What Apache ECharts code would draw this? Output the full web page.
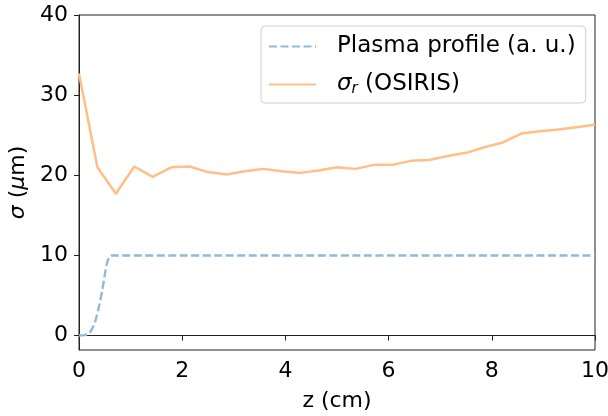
<!DOCTYPE html>
<html>
<head>
<meta charset="utf-8">
<script src="https://cdn.jsdelivr.net/npm/echarts@6/dist/echarts.min.js"></script>
<style>
  html, body { margin: 0; padding: 0; background: #fff; }
  #chart { width: 608px; height: 416px; }
</style>
</head>
<body>
<div id="chart"></div>
<script>
// z positions of the OSIRIS samples (cm)
var zSim = [0, 0.357, 0.714, 1.071, 1.429, 1.786, 2.143, 2.5, 2.857, 3.214,
  3.571, 3.929, 4.286, 4.643, 5.0, 5.357, 5.714, 6.071, 6.429, 6.786,
  7.143, 7.5, 7.857, 8.214, 8.571, 8.929, 9.286, 9.643, 10]
// sigma_r from the simulation (um)
var sigmaR = [32.7, 21.0, 17.7, 21.1, 19.8, 21.0, 21.1, 20.4, 20.1, 20.5,
  20.8, 20.5, 20.3, 20.6, 21.0, 20.8, 21.3, 21.3, 21.8, 21.9,
  22.4, 22.8, 23.5, 24.1, 25.2, 25.5, 25.7, 26.0, 26.3]
// plasma density profile, arbitrary units
var zPlasma = [0, 0.1, 0.2, 0.3, 0.35, 0.4, 0.45, 0.5, 0.55, 0.6, 0.65, 10]
var plasma = [0, 0.05, 0.3, 1.5, 2.6, 4.0, 5.6, 7.6, 9.2, 9.9, 10, 10]

var xTicks = [0, 2, 4, 6, 8, 10]
var yTicks = [0, 10, 20, 30, 40]

var font = 'DejaVu Sans'
var pair = function (xs, ys) {
  return xs.map(function (v, i) { return [v, ys[i]] })
}

var myChart = echarts.init(document.getElementById('chart'))
var option = {
  animation: false,
  textStyle: { fontFamily: font },
  grid: {
    left: 79, right: 13, top: 15, bottom: 66,
    containLabel: false, outerBoundsMode: 'none',
    show: true, borderColor: '#222', borderWidth: 1
  },
  legend: {
    left: 261, top: 26,
    orient: 'vertical',
    padding: [9, 10, 6, 7],
    itemWidth: 47, itemHeight: 26, itemGap: 15,
    backgroundColor: 'rgba(255,255,255,0.8)',
    borderColor: '#d0d0d0', borderWidth: 1, borderRadius: 4,
    itemStyle: { opacity: 0 },
    textStyle: {
      fontFamily: font, fontSize: 23, color: '#000',
      padding: [0, 0, 0, 16],
      rich: {
        s: { fontFamily: font, fontSize: 23, fontStyle: 'italic', color: '#000' },
        sub: { fontFamily: font, fontSize: 15, fontStyle: 'italic', color: '#000', verticalAlign: 'bottom', padding: [10, 0, 0, 0] },
        t: { fontFamily: font, fontSize: 23, color: '#000' }
      }
    },
    formatter: function (name) {
      if (name === 'sigma') return '{s|σ}{sub|r}{t| (OSIRIS)}'
      return name
    },
    data: ['Plasma profile (a. u.)', 'sigma']
  },
  xAxis: {
    type: 'value', min: 0, max: 10, interval: 2,
    name: 'z (cm)', nameLocation: 'middle', nameGap: 40,
    nameTextStyle: { fontFamily: font, fontSize: 22, color: '#000' },
    axisLine: { show: true, lineStyle: { color: '#222', width: 1 } },
    axisTick: { show: true, inside: false, length: 5, lineStyle: { color: '#222' }, customValues: xTicks },
    axisLabel: { fontFamily: font, fontSize: 22, color: '#000', margin: 10, customValues: xTicks },
    splitLine: { show: false }
  },
  yAxis: {
    type: 'value', min: -1.8, max: 40,
    name: '{i|σ} ({i|μ}m)', nameLocation: 'middle', nameGap: 50, nameRotate: 90,
    nameTextStyle: {
      fontFamily: font, fontSize: 22, color: '#000',
      rich: { i: { fontFamily: font, fontSize: 22, fontStyle: 'italic', color: '#000' } }
    },
    axisLine: { show: true, lineStyle: { color: '#222', width: 1 } },
    axisTick: { show: true, inside: false, length: 5, lineStyle: { color: '#222' }, customValues: yTicks },
    axisLabel: { fontFamily: font, fontSize: 22, color: '#000', margin: 11, customValues: yTicks },
    splitLine: { show: false }
  },
  series: [
    {
      name: 'Plasma profile (a. u.)',
      type: 'line',
      data: pair(zPlasma, plasma),
      smooth: 0.3,
      symbol: 'none',
      lineStyle: { color: '#8fbbd9', width: 2.4, type: [8, 3.5] },
      itemStyle: { color: '#8fbbd9' }
    },
    {
      name: 'sigma',
      type: 'line',
      data: pair(zSim, sigmaR),
      symbol: 'none',
      lineStyle: { color: '#ffbf86', width: 2.5 },
      itemStyle: { color: '#ffbf86' }
    }
  ]
}
myChart.setOption(option)
</script>
</body>
</html>
